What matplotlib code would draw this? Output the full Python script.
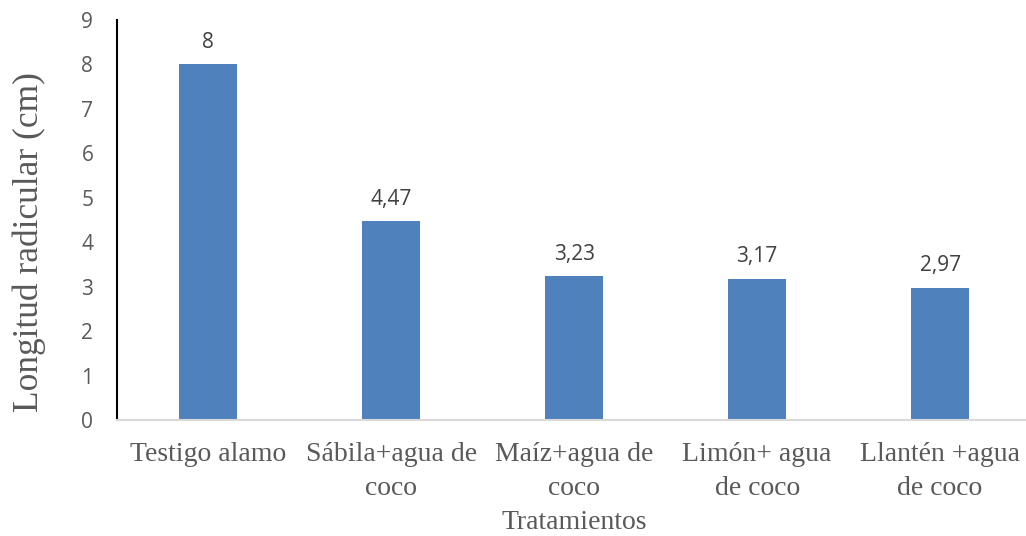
import matplotlib.pyplot as plt

# --- datos ---
tratamientos = ["Testigo alamo", "Sábila+agua de\ncoco", "Maíz+agua de\ncoco",
                "Limón+ agua\nde coco", "Llantén +agua\nde coco"]
longitud = [8, 4.47, 3.23, 3.17, 2.97]
etiquetas = ["8", "4,47", "3,23", "3,17", "2,97"]

gris = "#595959"
serif = "Liberation Serif"
sans = "Open Sans"

fig = plt.figure(figsize=(10.26, 5.36), dpi=100)
ax = fig.add_axes([0.114, 0.2164, 0.8914, 0.7463])

x = range(len(longitud))
ax.bar(x, longitud, width=0.317, color="#4F81BD", zorder=2)

for xi, v, t in zip(x, longitud, etiquetas):
    ax.annotate(t, (xi, v), xytext=(0, 12), textcoords="offset points",
                ha="center", va="baseline", fontsize=15, color="#404040",
                family=sans)

ax.set_xlim(-0.5, 4.5)
ax.set_ylim(0, 9)
ax.set_yticks(range(10))
ax.set_xticks(list(x))
ax.set_xticklabels(tratamientos, family=serif, fontsize=20, color=gris,
                   linespacing=1.48)
for lab in ax.get_yticklabels():
    lab.set_family(sans)
    lab.set_fontsize(15)
    lab.set_color(gris)
ax.tick_params(axis="both", length=0)
ax.tick_params(axis="y", pad=17)
ax.tick_params(axis="x", pad=16)

ax.spines["top"].set_visible(False)
ax.spines["right"].set_visible(False)
ax.spines["left"].set_color("black")
ax.spines["left"].set_linewidth(1.5)
ax.spines["bottom"].set_color("#D9D9D9")
ax.spines["bottom"].set_linewidth(1.5)

ax.set_ylabel("Longitud radicular (cm)", family=serif, fontsize=25.5, color=gris)
ax.yaxis.set_label_coords(-0.078, 0.445)
ax.set_xlabel("Tratamientos", family=serif, fontsize=20, color=gris, labelpad=6)

plt.savefig("out.png", dpi=100)
